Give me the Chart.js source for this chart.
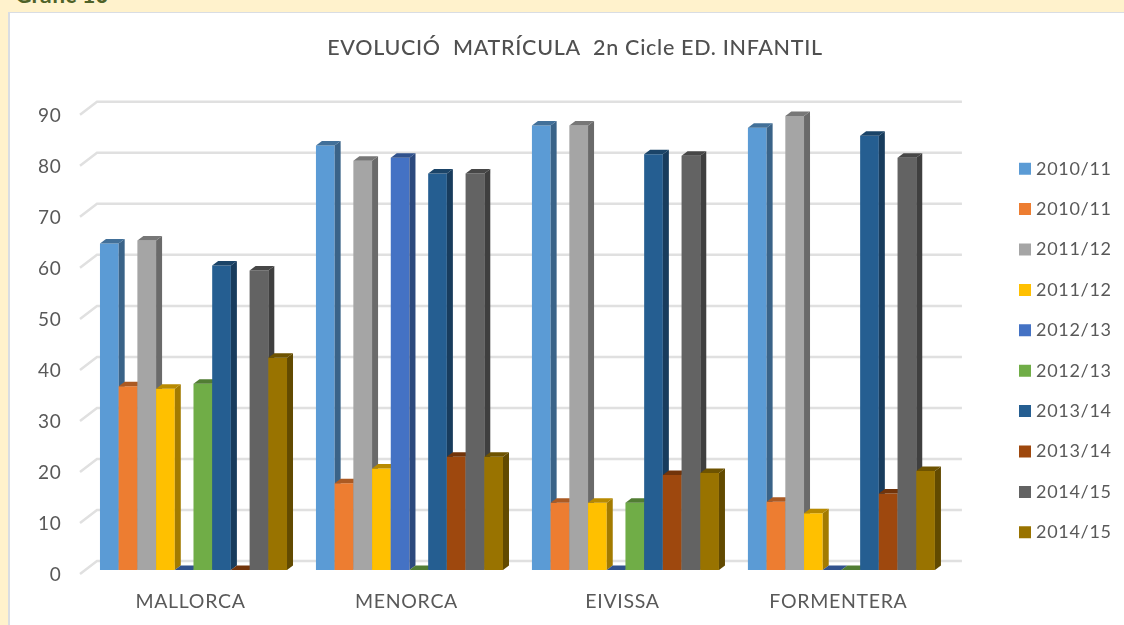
<!DOCTYPE html>
<html>
<head>
<meta charset="utf-8">
<script src="https://cdn.jsdelivr.net/npm/chart.js@4"></script>
<style>
  html, body { margin: 0; padding: 0; width: 1124px; height: 625px; overflow: hidden; background: #fff2cc; }
  #heading { position: absolute; left: 15px; top: -20px; font: bold 23px Lato; color: #4f6228; }
  #panel { position: absolute; left: 8px; top: 12px; width: 1116px; height: 613px; background: #fff; border: solid #d9dde3; border-width: 1px 0 0 2px; box-sizing: border-box; }
  #chart { position: absolute; left: 0; top: 0; }
</style>
</head>
<body>
<div id="heading">Gràfic 10</div>
<div id="panel"></div>
<canvas id="chart" width="1124" height="625"></canvas>
<script>
var titleText = "EVOLUCIÓ  MATRÍCULA  2n Cicle ED. INFANTIL";
var islands = ["MALLORCA", "MENORCA", "EIVISSA", "FORMENTERA"];
var seriesNames = ["2010/11", "2010/11", "2011/12", "2011/12", "2012/13", "2012/13", "2013/14", "2013/14", "2014/15", "2014/15"];
var seriesColors = ["#5b9bd5", "#ed7d31", "#a5a5a5", "#ffc000", "#4472c4", "#70ad47", "#255e91", "#9e480e", "#636363", "#997300"];

var values2010a = [64, 83.2, 87.1, 86.7];
var values2010b = [36, 17, 13.2, 13.4];
var values2011a = [64.6, 80.2, 87.1, 89];
var values2011b = [35.5, 19.9, 13.2, 11.1];
var values2012a = [0, 80.8, 0, 0];
var values2012b = [36.5, 0, 13.2, 0];
var values2013a = [59.7, 77.7, 81.5, 85.1];
var values2013b = [0, 22.2, 18.6, 15];
var values2014a = [58.7, 77.7, 81.2, 80.8];
var values2014b = [41.6, 22.2, 19, 19.4];
var allValues = [values2010a, values2010b, values2011a, values2011b, values2012a, values2012b, values2013a, values2013b, values2014a, values2014b];

var depthX = 6;
var depthY = 4.5;

function shade(hex, f) {
  var n = parseInt(hex.slice(1), 16);
  var r = Math.round((n >> 16) * f);
  var g = Math.round(((n >> 8) & 255) * f);
  var b = Math.round((n & 255) * f);
  return "rgb(" + r + "," + g + "," + b + ")";
}

// chart.js draws the first dataset last, the 3d bars need left to right instead
var bars3d = {
  id: "bars3d",
  beforeLayout: function (chart) {
    chart.ctx.letterSpacing = "0.7px";
  },
  beforeDatasetDraw: function () {
    return false;
  },
  beforeDatasetsDraw: function (chart) {
    var ctx = chart.ctx;
    var area = chart.chartArea;
    var y = chart.scales.y;
    ctx.save();
    ctx.strokeStyle = "#e0e0e0";
    ctx.lineWidth = 2.5;
    y.ticks.forEach(function (t) {
      var py = y.getPixelForValue(t.value);
      ctx.beginPath();
      ctx.moveTo(80, py + 4);
      ctx.lineTo(97, py - 9);
      ctx.lineTo(area.right + 12.5, py - 9);
      ctx.stroke();
    });
    ctx.restore();
  },
  afterDatasetsDraw: function (chart) {
    var ctx = chart.ctx;
    chart.data.datasets.forEach(function (ds, i) {
      chart.getDatasetMeta(i).data.forEach(function (bar) {
        var left = bar.x - bar.width / 2;
        var right = bar.x + bar.width / 2;
        bar.draw(ctx);
        ctx.fillStyle = shade(seriesColors[i], 0.64);
        ctx.beginPath();
        ctx.moveTo(right, bar.base);
        ctx.lineTo(right + depthX, bar.base - depthY);
        ctx.lineTo(right + depthX, bar.y - depthY);
        ctx.lineTo(right, bar.y);
        ctx.closePath();
        ctx.fill();
        ctx.fillStyle = shade(seriesColors[i], 0.72);
        ctx.beginPath();
        ctx.moveTo(left, bar.y);
        ctx.lineTo(left + depthX, bar.y - depthY);
        ctx.lineTo(right + depthX, bar.y - depthY);
        ctx.lineTo(right, bar.y);
        ctx.closePath();
        ctx.fill();
      });
    });
  },
  afterLayout: function (chart) {
    // legend sits away from the plot, further right than the layout would put it
    var lg = chart.legend;
    var w = lg.width;
    var h = lg.height;
    lg.left = 1000.6;
    lg.right = lg.left + w;
    lg.top = 38;
    lg.bottom = lg.top + h;
    chart.titleBlock.left = 0;
    chart.titleBlock.right = 1150;
  }
};

var datasets = [];
for (var i = 0; i < seriesNames.length; i++) {
  datasets.push({
    label: seriesNames[i],
    data: allValues[i],
    backgroundColor: seriesColors[i],
    borderWidth: 0,
    barPercentage: 1,
    categoryPercentage: 0.866
  });
}

new Chart(document.getElementById("chart"), {
  type: "bar",
  data: { labels: islands, datasets: datasets },
  plugins: [bars3d],
  options: {
    responsive: false,
    animation: false,
    layout: { padding: { left: 0, right: 53.5, top: 0, bottom: 0 } },
    plugins: {
      title: {
        display: true,
        text: titleText,
        color: "#505050",
        font: { family: "Lato", size: 21.5, weight: "500" },
        padding: { top: 35, bottom: 50 }
      },
      legend: {
        position: "right",
        labels: {
          usePointStyle: true,
          pointStyle: "rect",
          boxWidth: 4,
          boxHeight: 12,
          padding: 22.4,
          color: "#595959",
          font: { family: "Lato", size: 18 }
        }
      },
      tooltip: { enabled: false }
    },
    scales: {
      x: {
        border: { display: false },
        grid: { display: false },
        afterFit: function (s) { s.height = 55; },
        ticks: {
          color: "#595959",
          padding: 12,
          labelOffset: -3,
          maxRotation: 0,
          font: { family: "Lato", size: 19.5 }
        }
      },
      y: {
        min: 0,
        max: 90,
        border: { display: false },
        grid: { display: false },
        afterFit: function (s) { s.width = 85.5; },
        ticks: {
          stepSize: 10,
          color: "#595959",
          padding: 16,
          labelOffset: 5,
          font: { family: "Lato", size: 19 }
        }
      }
    }
  }
});
</script>
</body>
</html>
